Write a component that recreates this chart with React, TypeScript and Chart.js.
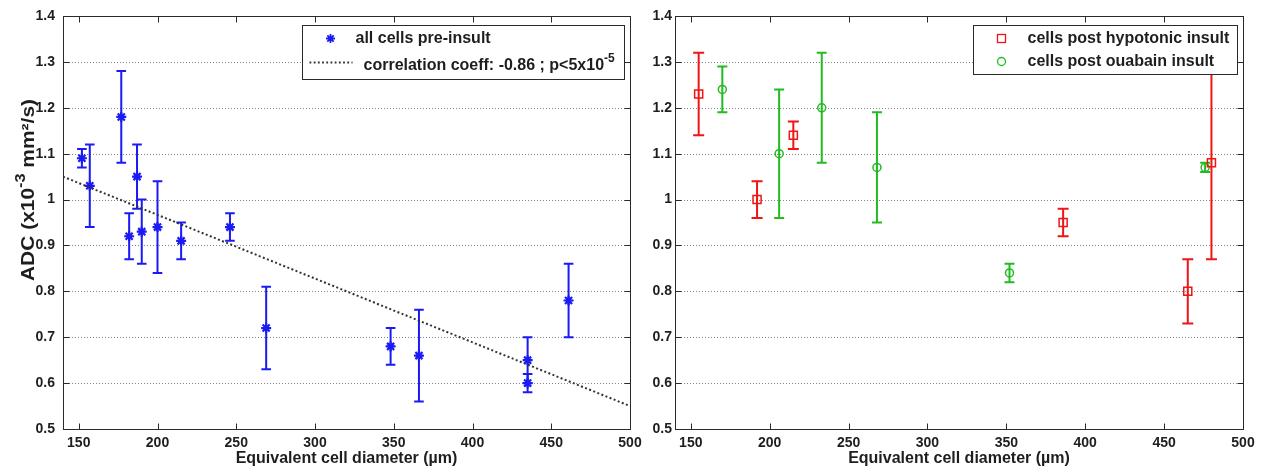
import React, { useEffect, useRef } from 'react';
import { Chart, registerables } from 'chart.js';
Chart.register(...registerables);

// ---- axes ----
const X_MIN = 140;
const X_MAX = 500;
const Y_MIN = 0.5;
const Y_MAX = 1.4;
const X_TICKS = [150, 200, 250, 300, 350, 400, 450, 500];
const Y_TICKS = [0.5, 0.6, 0.7, 0.8, 0.9, 1.0, 1.1, 1.2, 1.3, 1.4];
const Y_TICK_LABELS = ['0.5', '0.6', '0.7', '0.8', '0.9', '1', '1.1', '1.2', '1.3', '1.4'];
const X_TITLE = 'Equivalent cell diameter (\u00b5m)';

// ---- left panel: all cells pre-insult ----
const PRE_X = [152, 157, 177, 182, 187, 190, 200, 215, 246, 269, 348, 366, 435, 435, 461];
const PRE_Y = [1.09, 1.03, 1.18, 0.92, 1.05, 0.93, 0.94, 0.91, 0.94, 0.72, 0.68, 0.66, 0.65, 0.6, 0.78];
const PRE_ERR = [0.02, 0.09, 0.1, 0.05, 0.07, 0.07, 0.1, 0.04, 0.03, 0.09, 0.04, 0.1, 0.05, 0.02, 0.08];
const TREND_X = [140, 500];
const TREND_Y = [1.05, 0.55];

// ---- right panel ----
const HYPO_X = [155, 192, 215, 386, 465, 480];
const HYPO_Y = [1.23, 1.0, 1.14, 0.95, 0.8, 1.08];
const HYPO_ERR = [0.09, 0.04, 0.03, 0.03, 0.07, 0.21];
const OUA_X = [170, 206, 233, 268, 352, 476];
const OUA_Y = [1.24, 1.1, 1.2, 1.07, 0.84, 1.07];
const OUA_ERR = [0.05, 0.14, 0.12, 0.12, 0.02, 0.01];

const FONT = '"Liberation Sans", Arial, Helvetica, sans-serif';
const TEXT = '#1e1e1e';
const AXIS = '#2a2a2a';
const BLUE = '#1a1af5';
const RED = '#f01414';
const GREEN = '#22bb22';

function pts(xs: number[], ys: number[]) {
  return xs.map((x, i) => ({ x, y: ys[i] }));
}

function drawStar(ctx: CanvasRenderingContext2D, x: number, y: number, r: number, color: string, lw: number) {
  ctx.save();
  ctx.strokeStyle = color;
  ctx.lineWidth = lw;
  ctx.beginPath();
  for (let k = 0; k < 4; k++) {
    const a = (k * Math.PI) / 4;
    ctx.moveTo(x - Math.cos(a) * r, y - Math.sin(a) * r);
    ctx.lineTo(x + Math.cos(a) * r, y + Math.sin(a) * r);
  }
  ctx.stroke();
  ctx.restore();
}

type LegendItem = { kind: 'star' | 'dots' | 'square' | 'circle'; color: string; text: string; sup?: string; textDx: number };

function makePlugin(opts: { legend: LegendItem[]; legendW: number; legendH: number; rowYs: number[]; yTitle: boolean }) {
  return {
    id: 'matlabStyle',
    beforeDatasetsDraw(chart: any) {
      const ctx: CanvasRenderingContext2D = chart.ctx;
      const { left, right, top, bottom } = chart.chartArea;
      const xs = chart.scales.x;
      const ys = chart.scales.y;
      // dotted grid
      ctx.save();
      ctx.strokeStyle = '#858585';
      ctx.lineWidth = 1;
      ctx.setLineDash([1, 2]);
      Y_TICKS.forEach((v) => {
        if (v === Y_MIN || v === Y_MAX) return;
        const py = Math.round(ys.getPixelForValue(v)) + 0.5;
        ctx.beginPath();
        ctx.moveTo(left, py);
        ctx.lineTo(right, py);
        ctx.stroke();
      });
      ctx.restore();
      // error bars
      ctx.save();
      ctx.beginPath();
      ctx.rect(left, top, right - left, bottom - top);
      ctx.clip();
      chart.data.datasets.forEach((ds: any) => {
        if (!ds.errors) return;
        ctx.strokeStyle = ds.borderColor;
        ctx.lineWidth = ds.errWidth;
        ds.data.forEach((p: any, i: number) => {
          const e = ds.errors[i];
          const px = xs.getPixelForValue(p.x);
          const y1 = ys.getPixelForValue(p.y - e);
          const y2 = ys.getPixelForValue(p.y + e);
          const c = ds.capHalf;
          ctx.beginPath();
          ctx.moveTo(px, y1);
          ctx.lineTo(px, y2);
          ctx.moveTo(px - c, y1);
          ctx.lineTo(px + c, y1);
          ctx.moveTo(px - c, y2);
          ctx.lineTo(px + c, y2);
          ctx.stroke();
        });
      });
      ctx.restore();
    },
    afterDatasetsDraw(chart: any) {
      const ctx: CanvasRenderingContext2D = chart.ctx;
      const { left, right, top, bottom } = chart.chartArea;
      const xs = chart.scales.x;
      const ys = chart.scales.y;
      ctx.save();
      // box
      ctx.strokeStyle = AXIS;
      ctx.lineWidth = 1;
      ctx.setLineDash([]);
      const L = Math.round(left) + 0.5;
      const R = Math.round(right) + 0.5;
      const T = Math.round(top) + 0.5;
      const B = Math.round(bottom) + 0.5;
      ctx.strokeRect(L, T, R - L, B - T);
      // inward tick marks on all sides
      const tl = 6;
      ctx.beginPath();
      X_TICKS.forEach((v) => {
        const px = Math.round(xs.getPixelForValue(v)) + 0.5;
        ctx.moveTo(px, B);
        ctx.lineTo(px, B - tl);
        ctx.moveTo(px, T);
        ctx.lineTo(px, T + tl);
      });
      Y_TICKS.forEach((v) => {
        const py = Math.round(ys.getPixelForValue(v)) + 0.5;
        ctx.moveTo(L, py);
        ctx.lineTo(L + tl, py);
        ctx.moveTo(R, py);
        ctx.lineTo(R - tl, py);
      });
      ctx.stroke();

      // x title
      ctx.fillStyle = TEXT;
      ctx.font = `bold 16px ${FONT}`;
      ctx.textAlign = 'center';
      ctx.textBaseline = 'middle';
      ctx.fillText(X_TITLE, (left + right) / 2, 459);

      // y title
      if (opts.yTitle) {
        const parts = [
          { t: 'ADC (x10', f: `bold 18px ${FONT}`, dy: 0 },
          { t: '-3', f: `bold 14px ${FONT}`, dy: -9 },
          { t: ' mm\u00b2/s)', f: `bold 18px ${FONT}`, dy: 0 },
        ];
        let total = 0;
        const ws = parts.map((p) => {
          ctx.font = p.f;
          const w = ctx.measureText(p.t).width;
          total += w;
          return w;
        });
        const target = 182;
        ctx.save();
        ctx.translate(27, 190);
        ctx.rotate(-Math.PI / 2);
        ctx.scale(target / total, 1);
        ctx.textAlign = 'left';
        ctx.textBaseline = 'alphabetic';
        let u = -total / 2;
        parts.forEach((p, i) => {
          ctx.font = p.f;
          ctx.fillText(p.t, u, 7 + p.dy);
          u += ws[i];
        });
        ctx.restore();
      }

      // legend
      const lx = Math.round(right) - 6 - opts.legendW + 0.5;
      const ly = Math.round(top) + 9 + 0.5;
      ctx.fillStyle = '#ffffff';
      ctx.fillRect(lx, ly, opts.legendW, opts.legendH);
      ctx.strokeStyle = AXIS;
      ctx.lineWidth = 1;
      ctx.strokeRect(lx, ly, opts.legendW, opts.legendH);
      opts.legend.forEach((it, i) => {
        const cy = ly + opts.rowYs[i];
        const mx = lx + 28;
        if (it.kind === 'star') drawStar(ctx, mx, cy, 4.5, it.color, 1.8);
        if (it.kind === 'dots') {
          ctx.save();
          ctx.strokeStyle = it.color;
          ctx.lineWidth = 1.8;
          ctx.setLineDash([1.8, 2.4]);
          ctx.beginPath();
          ctx.moveTo(lx + 7, cy - 3);
          ctx.lineTo(lx + 50, cy - 3);
          ctx.stroke();
          ctx.restore();
        }
        if (it.kind === 'square') {
          ctx.strokeStyle = it.color;
          ctx.lineWidth = 1.3;
          ctx.strokeRect(mx - 4, cy - 4, 8, 8);
        }
        if (it.kind === 'circle') {
          ctx.strokeStyle = it.color;
          ctx.lineWidth = 1.3;
          ctx.beginPath();
          ctx.arc(mx, cy, 4, 0, Math.PI * 2);
          ctx.stroke();
        }
        ctx.fillStyle = TEXT;
        ctx.font = `bold 16px ${FONT}`;
        ctx.textAlign = 'left';
        ctx.textBaseline = 'middle';
        const tx = lx + it.textDx;
        ctx.fillText(it.text, tx, cy);
        if (it.sup) {
          const w = ctx.measureText(it.text).width;
          ctx.font = `bold 12px ${FONT}`;
          ctx.fillText(it.sup, tx + w, cy - 7);
        }
      });
      ctx.restore();
    },
  };
}

function baseOptions(canvasW: number, plotLeft: number, plotRight: number, yPad: number) {
  const tickFont = { family: FONT, size: 14, weight: 'bold' as const };
  return {
    responsive: false,
    animation: false as const,
    devicePixelRatio: 1,
    layout: { padding: { left: 0, right: canvasW - plotRight, top: 16, bottom: 0 } },
    plugins: { legend: { display: false }, tooltip: { enabled: false } },
    scales: {
      x: {
        type: 'linear' as const,
        min: X_MIN,
        max: X_MAX,
        grid: { display: false, drawTicks: false },
        border: { display: false },
        afterBuildTicks: (s: any) => {
          s.ticks = X_TICKS.map((v) => ({ value: v }));
        },
        afterFit: (s: any) => {
          s.height = 41;
          s.paddingLeft = 0;
          s.paddingRight = 0;
        },
        ticks: { autoSkip: false, maxRotation: 0, padding: 6, font: tickFont, color: TEXT, callback: (v: any) => String(v) },
      },
      y: {
        type: 'linear' as const,
        min: Y_MIN,
        max: Y_MAX,
        grid: { display: false, drawTicks: false },
        border: { display: false },
        afterBuildTicks: (s: any) => {
          s.ticks = Y_TICKS.map((v) => ({ value: v }));
        },
        afterFit: (s: any) => {
          s.width = plotLeft;
          s.paddingTop = 0;
          s.paddingBottom = 0;
        },
        ticks: { autoSkip: false, padding: yPad, font: tickFont, color: TEXT, callback: (_v: any, i: number) => Y_TICK_LABELS[i] },
      },
    },
  };
}

export default function App() {
  const leftRef = useRef<HTMLCanvasElement>(null);
  const rightRef = useRef<HTMLCanvasElement>(null);

  useEffect(() => {
    document.body.style.margin = '0';
    const left = new Chart(leftRef.current as HTMLCanvasElement, {
      type: 'scatter',
      data: {
        datasets: [
          {
            label: 'correlation coeff',
            data: pts(TREND_X, TREND_Y),
            showLine: true,
            borderColor: '#333333',
            borderWidth: 2,
            borderDash: [2, 2.4],
            pointRadius: 0,
            fill: false,
          } as any,
          {
            label: 'all cells pre-insult',
            data: pts(PRE_X, PRE_Y),
            pointStyle: 'star',
            pointRadius: 5,
            borderWidth: 2.2,
            borderColor: BLUE,
            backgroundColor: BLUE,
            errors: PRE_ERR,
            errWidth: 2,
            capHalf: 4.8,
          } as any,
        ],
      },
      options: baseOptions(665, 63, 630, 8) as any,
      plugins: [
        makePlugin({
          legend: [
            { kind: 'star', color: BLUE, text: 'all cells pre-insult', textDx: 53 },
            { kind: 'dots', color: '#333333', text: 'correlation coeff: -0.86 ; p<5x10', sup: '-5', textDx: 61 },
          ],
          legendW: 322,
          legendH: 54,
          rowYs: [13, 40],
          yTitle: true,
        }) as any,
      ],
    });

    const right = new Chart(rightRef.current as HTMLCanvasElement, {
      type: 'scatter',
      data: {
        datasets: [
          {
            label: 'cells post hypotonic insult',
            data: pts(HYPO_X, HYPO_Y),
            pointStyle: 'rect',
            pointRadius: 5.7,
            borderWidth: 1.5,
            borderColor: RED,
            backgroundColor: 'rgba(0,0,0,0)',
            errors: HYPO_ERR,
            errWidth: 2,
            capHalf: 5.5,
          } as any,
          {
            label: 'cells post ouabain insult',
            data: pts(OUA_X, OUA_Y),
            pointStyle: 'circle',
            pointRadius: 4,
            borderWidth: 1.5,
            borderColor: GREEN,
            backgroundColor: 'rgba(0,0,0,0)',
            errors: OUA_ERR,
            errWidth: 2,
            capHalf: 5,
          } as any,
        ],
      },
      options: baseOptions(625, 35, 603, 3) as any,
      plugins: [
        makePlugin({
          legend: [
            { kind: 'square', color: RED, text: 'cells post hypotonic insult', textDx: 54 },
            { kind: 'circle', color: GREEN, text: 'cells post ouabain insult', textDx: 54 },
          ],
          legendW: 264,
          legendH: 49,
          rowYs: [13, 36],
          yTitle: false,
        }) as any,
      ],
    });

    return () => {
      left.destroy();
      right.destroy();
    };
  }, []);

  return (
    <div style={{ position: 'relative', width: 1265, height: 470, background: '#ffffff', overflow: 'hidden' }}>
      <canvas ref={rightRef} width={625} height={470} style={{ position: 'absolute', left: 640, top: 0, width: 625, height: 470 }} />
      <canvas ref={leftRef} width={665} height={470} style={{ position: 'absolute', left: 0, top: 0, width: 665, height: 470 }} />
    </div>
  );
}
